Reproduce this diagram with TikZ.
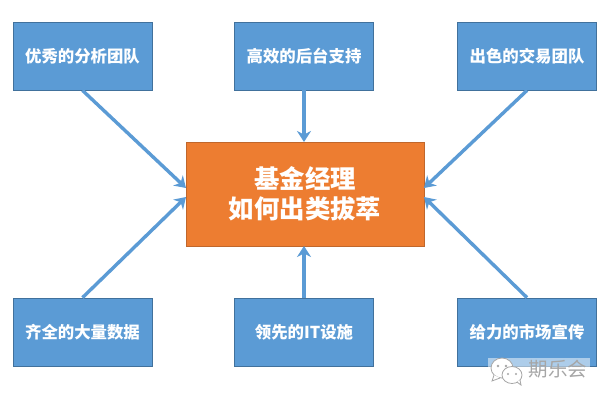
\documentclass[tikz,border=0pt]{standalone}
\usepackage{fontspec}
\newfontfamily\cjk{Noto Sans CJK SC}
\usetikzlibrary{arrows.meta}
\definecolor{boxblue}{HTML}{5B9BD5}
\definecolor{boxedge}{HTML}{41719C}
\definecolor{coreorange}{HTML}{ED7D31}
\definecolor{coreedge}{HTML}{C0672C}
\definecolor{markgray}{HTML}{A6A6A6}
\tikzset{
  x=1pt,y=-1pt,
  sidebox/.style={draw=boxedge,line width=0.8pt,fill=boxblue,text=white,minimum width=139pt,minimum height=68pt,inner sep=0pt,font=\cjk\bfseries\fontsize{16.4}{18}\selectfont},
  corebox/.style={draw=coreedge,line width=0.8pt,fill=coreorange,text=white,minimum width=238pt,minimum height=104pt,inner sep=0pt,align=center,font=\cjk\bfseries\fontsize{25.4}{30}\selectfont},
  link/.style={draw=boxblue,line width=3.4pt,-{Stealth[length=11pt,width=14pt]}},
  bubble/.style={draw=markgray,fill=white,line width=0.8pt},
  marktext/.style={text=markgray,inner sep=0pt,font=\cjk\fontsize{19.5}{22}\selectfont}
}
\begin{document}
\begin{tikzpicture}
\useasboundingbox (0,0) rectangle (606,400);
\fill[white] (0,0) rectangle (606,400);
\node[corebox] (core) at (305,194) {基金经理\\如何出类拔萃};
\node[sidebox] (tl) at (82.5,56) {优秀的分析团队};
\node[sidebox] (tm) at (304,56) {高效的后台支持};
\node[sidebox] (tr) at (527,56) {出色的交易团队};
\node[sidebox] (bl) at (82.5,332) {齐全的大量数据};
\node[sidebox] (bm) at (304,332) {领先的IT设施};
\node[sidebox] (br) at (527,332) {给力的市场宣传};
\coordinate (lu) at (186,188);
\coordinate (ld) at (186,197);
\coordinate (ru) at (424,188);
\coordinate (rd) at (424,197);
\coordinate (ct) at (304,142);
\coordinate (cb) at (304,246);
\draw[link] (tl.south) -- (lu);
\draw[link] (tm.south) -- (ct);
\draw[link] (tr.south) -- (ru);
\draw[link] (bl.north) -- (ld);
\draw[link] (bm.north) -- (cb);
\draw[link] (br.north) -- (rd);
% watermark
\fill[white,opacity=0.5] (488,358) rectangle (590,382);
\draw[bubble] (502,368) ellipse (11 and 10);
\draw[bubble] (494,375) -- (492,381) -- (500,378);
\draw[bubble] (512,375) ellipse (10 and 8.5);
\draw[bubble] (517,382) -- (521,385) -- (520,380);
\fill[markgray] (498,366) circle (1.3) (506,366) circle (1.3) (508,374) circle (1.2) (516,374) circle (1.2);
\node[marktext] (mark) at (558,369) {期乐会};
\end{tikzpicture}
\end{document}
